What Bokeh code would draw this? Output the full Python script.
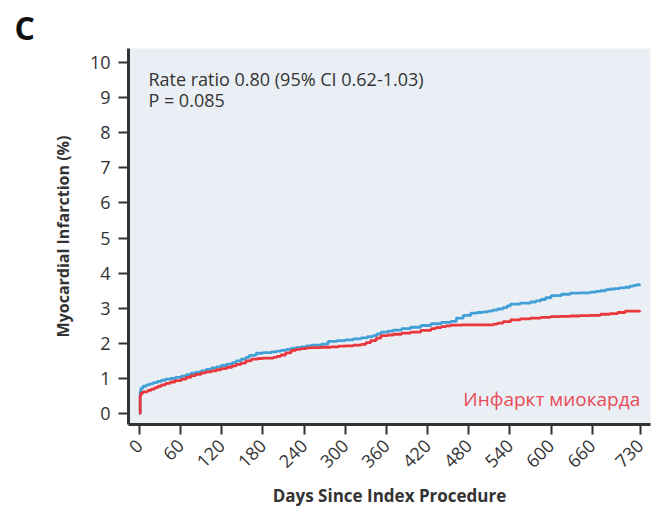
import math
from bokeh.plotting import figure
from bokeh.models import Range1d, FixedTicker, Label
from bokeh.embed import file_html
from bokeh.resources import INLINE

# ---- data ----
x_ticks = [0, 60, 120, 180, 240, 300, 360, 420, 480, 540, 600, 660, 730]
y_ticks = [0, 1, 2, 3, 4, 5, 6, 7, 8, 9, 10]

blue_days = [0, 1, 2, 5, 10, 15, 20, 26, 32, 38, 45, 52, 61, 68, 75, 82, 90, 97, 105, 112,
             119, 127, 135, 141, 148, 155, 160, 170, 180, 192, 200, 206, 214, 221, 228, 235,
             243, 250, 265, 275, 288, 300, 312, 323, 332, 340, 346, 352, 362, 370, 382, 395,
             410, 425, 440, 454, 462, 472, 483, 492, 500, 508, 515, 522, 530, 536, 541, 555,
             570, 578, 585, 592, 600, 615, 628, 642, 657, 665, 672, 680, 686, 693, 700, 708,
             715, 720, 725, 730]
blue_pct = [0, 0.62, 0.72, 0.78, 0.82, 0.85, 0.88, 0.92, 0.95, 0.98, 1.0, 1.03, 1.07, 1.11,
            1.15, 1.18, 1.22, 1.26, 1.3, 1.33, 1.37, 1.41, 1.45, 1.5, 1.55, 1.6, 1.66, 1.72,
            1.74, 1.76, 1.78, 1.8, 1.83, 1.86, 1.88, 1.9, 1.93, 1.95, 1.98, 2.06, 2.08, 2.1,
            2.13, 2.16, 2.19, 2.22, 2.27, 2.32, 2.35, 2.38, 2.42, 2.46, 2.51, 2.56, 2.6, 2.63,
            2.72, 2.8, 2.86, 2.88, 2.9, 2.92, 2.95, 2.98, 3.02, 3.07, 3.12, 3.15, 3.18, 3.21,
            3.25, 3.3, 3.36, 3.4, 3.43, 3.44, 3.46, 3.48, 3.5, 3.53, 3.55, 3.56, 3.58, 3.6,
            3.63, 3.65, 3.67, 3.68]

red_days = [0, 1, 2, 5, 12, 17, 22, 27, 32, 38, 45, 52, 61, 68, 75, 82, 90, 97, 105, 112,
            119, 127, 135, 141, 148, 155, 163, 172, 180, 195, 200, 206, 213, 221, 228, 235,
            243, 250, 265, 279, 290, 300, 312, 323, 330, 337, 345, 352, 362, 370, 382, 395,
            410, 425, 432, 440, 447, 454, 470, 483, 510, 516, 522, 530, 541, 555, 570, 585,
            599, 614, 628, 642, 657, 672, 686, 697, 708, 730]
red_pct = [0, 0.5, 0.58, 0.62, 0.66, 0.7, 0.74, 0.78, 0.82, 0.86, 0.9, 0.94, 0.98, 1.03,
           1.08, 1.12, 1.16, 1.19, 1.22, 1.25, 1.28, 1.32, 1.36, 1.4, 1.44, 1.5, 1.55, 1.57,
           1.58, 1.6, 1.63, 1.67, 1.73, 1.8, 1.83, 1.85, 1.87, 1.88, 1.89, 1.9, 1.92, 1.93,
           1.95, 1.97, 2.02, 2.08, 2.15, 2.22, 2.24, 2.26, 2.29, 2.32, 2.37, 2.42, 2.45, 2.48,
           2.5, 2.52, 2.53, 2.53, 2.53, 2.55, 2.58, 2.62, 2.67, 2.7, 2.72, 2.74, 2.76, 2.77,
           2.78, 2.79, 2.8, 2.83, 2.85, 2.88, 2.92, 2.93]

stat_line1 = "Rate ratio 0.80 (95% CI 0.62-1.03)"
stat_line2 = "P = 0.085"
panel_letter = "C"
endpoint_label = "Инфаркт миокарда"

FONT = "Open Sans"
DARK = "#333333"
BLUE = "#42a0d6"
RED = "#e8383d"

p = figure(width=657, height=515, output_backend="svg", toolbar_location=None,
           x_range=Range1d(-16, 745), y_range=Range1d(-0.31, 10.4),
           min_border_left=128, min_border_right=7, min_border_top=48, min_border_bottom=91,
           title=panel_letter)

p.title.text_font = FONT
p.title.text_font_size = "32px"
p.title.text_font_style = "bold"
p.title.text_color = "#111111"
p.title.align = "left"
p.title.offset = -114
p.title.standoff = 0

p.background_fill_color = "#eaeff6"
p.border_fill_color = "white"
p.outline_line_color = None
p.grid.visible = False

p.step(blue_days, blue_pct, mode="after", line_color=BLUE, line_width=2.8)
p.step(red_days, red_pct, mode="after", line_color=RED, line_width=2.8)

for ax in (p.xaxis[0], p.yaxis[0]):
    ax.axis_line_width = 3
    ax.axis_line_color = DARK
    ax.major_tick_line_width = 2
    ax.major_tick_line_color = DARK
    ax.major_tick_out = 10
    ax.major_tick_in = 0
    ax.minor_tick_line_color = None
    ax.major_label_text_font = FONT
    ax.major_label_text_font_size = "18px"
    ax.major_label_text_color = DARK
    ax.axis_label_text_font = FONT
    ax.axis_label_text_font_style = "bold"
    ax.axis_label_text_color = DARK

p.xaxis.ticker = FixedTicker(ticks=x_ticks)
p.yaxis.ticker = FixedTicker(ticks=y_ticks)
p.xaxis.major_label_orientation = math.pi / 4
p.xaxis.axis_label = "Days Since Index Procedure"
p.yaxis.axis_label = "Myocardial Infarction (%)"
p.xaxis.axis_label_text_font_size = "17px"
p.yaxis.axis_label_text_font_size = "16px"
p.yaxis.major_label_standoff = 8
p.yaxis.axis_label_standoff = 13
p.xaxis.major_label_standoff = 8
p.xaxis.axis_label_standoff = 7

p.add_layout(Label(x=13, y=9.52, text=stat_line1, text_font=FONT, text_font_size="18px",
                   text_color=DARK, text_baseline="middle"))
p.add_layout(Label(x=13, y=8.93, text=stat_line2, text_font=FONT, text_font_size="18px",
                   text_color=DARK, text_baseline="middle"))
p.add_layout(Label(x=730, y=0.43, text=endpoint_label, text_font=FONT, text_font_size="19px",
                   text_color="#e84b55", text_align="right", text_baseline="middle"))

open("out.html", "w").write(file_html(p, INLINE))
